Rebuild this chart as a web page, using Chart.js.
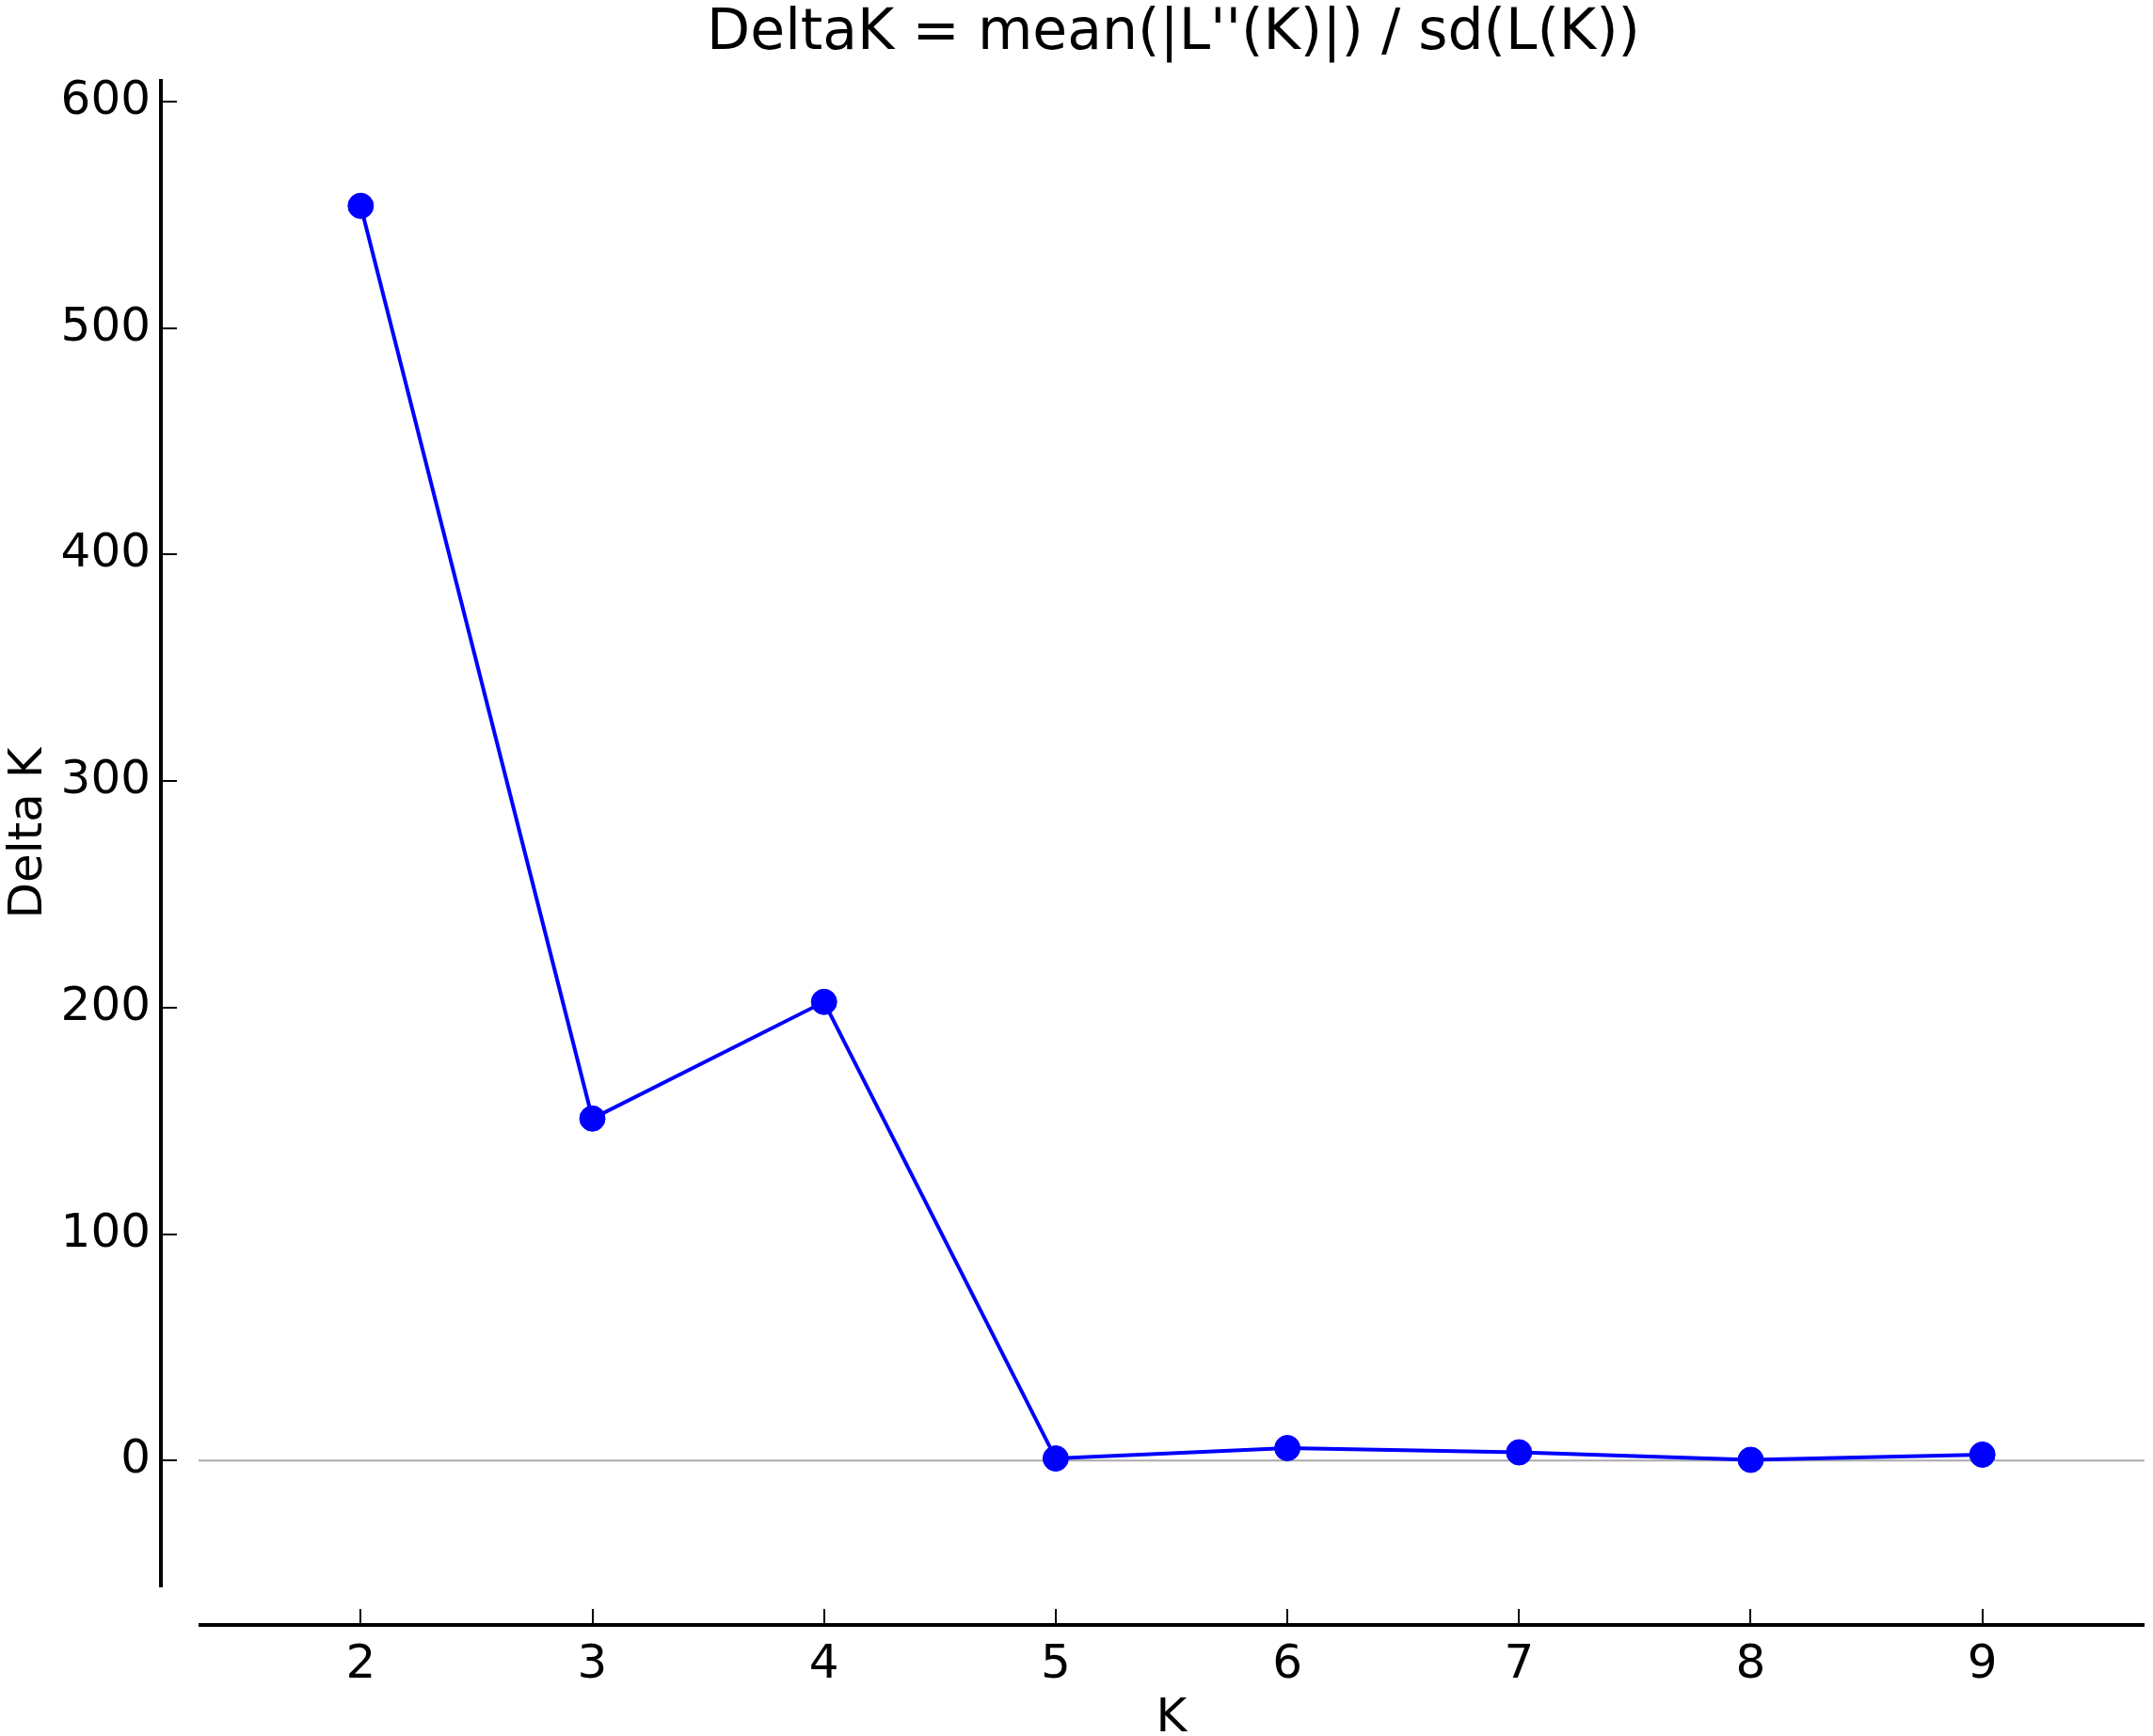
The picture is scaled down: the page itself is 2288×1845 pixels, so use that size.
<!DOCTYPE html>
<html>
<head>
<meta charset="utf-8">
<script src="https://cdn.jsdelivr.net/npm/chart.js@4/dist/chart.umd.min.js"></script>
<style>
  html, body { margin: 0; padding: 0; background: #fff; }
  #wrap { width: 2288px; height: 1845px; }
</style>
</head>
<body>
<div id="wrap"><canvas id="deltaChart" width="2288" height="1845"></canvas></div>
<script>
// values
const kValues = [2, 3, 4, 5, 6, 7, 8, 9];
const deltaK = [554, 151, 202.5, 0.9, 5.5, 3.6, 0.3, 2.6];
const xTickValues = [2, 3, 4, 5, 6, 7, 8, 9];
const yTickValues = [0, 100, 200, 300, 400, 500, 600];
const xRange = [1.3, 9.7];
const yRange = [-56, 610];
const chartTitle = "DeltaK = mean(|L''(K)|) / sd(L(K))";

const FONT = "DejaVu Sans";

// matplotlib-style offset spines with inward ticks, title centred on the axes
const spinePlugin = {
  id: "spines",
  afterDraw(chart) {
    const { ctx, chartArea, scales } = chart;
    const off = 40;
    const spineX = chartArea.left - off;
    const spineY = chartArea.bottom + off;
    ctx.save();
    ctx.strokeStyle = "#000";
    ctx.lineCap = "butt";
    ctx.lineWidth = 4;
    ctx.beginPath();
    ctx.moveTo(spineX, chartArea.top);
    ctx.lineTo(spineX, chartArea.bottom);
    ctx.moveTo(chartArea.left, spineY);
    ctx.lineTo(chartArea.right, spineY);
    ctx.stroke();
    ctx.lineWidth = 2;
    ctx.beginPath();
    scales.y.ticks.forEach((t) => {
      const py = Math.round(scales.y.getPixelForValue(t.value));
      ctx.moveTo(spineX, py);
      ctx.lineTo(spineX + 17, py);
    });
    scales.x.ticks.forEach((t) => {
      const px = Math.round(scales.x.getPixelForValue(t.value));
      ctx.moveTo(px, spineY);
      ctx.lineTo(px, spineY - 17);
    });
    ctx.stroke();

    ctx.fillStyle = "#000";
    ctx.font = "60px '" + FONT + "'";
    ctx.textAlign = "center";
    ctx.textBaseline = "middle";
    ctx.fillText(chartTitle, (chartArea.left + chartArea.right) / 2 + 2, 36);
    ctx.restore();
  },
};

const ctx = document.getElementById("deltaChart").getContext("2d");

const points = kValues.map((k, i) => ({ x: k, y: deltaK[i] }));
const zeroLine = [{ x: xRange[0], y: 0 }, { x: xRange[1], y: 0 }];

new Chart(ctx, {
  type: "scatter",
  data: {
    datasets: [
      {
        label: "Delta K",
        data: points,
        showLine: true,
        borderColor: "#0000ff",
        borderWidth: 4,
        pointRadius: 13.5,
        pointBorderWidth: 1,
        pointBackgroundColor: "#0000ff",
        pointBorderColor: "#0000ff",
        order: 1,
        clip: false,
      },
      {
        label: "zero",
        data: zeroLine,
        showLine: true,
        borderColor: "#aaaaaa",
        borderWidth: 2,
        pointRadius: 0,
        order: 2,
      },
    ],
  },
  options: {
    responsive: false,
    animation: false,
    layout: { autoPadding: false, padding: { left: 0, right: 9, top: 84, bottom: 0 } },
    plugins: {
      legend: { display: false },
      tooltip: { enabled: false },
      title: { display: false },
    },
    scales: {
      x: {
        type: "linear",
        min: xRange[0],
        max: xRange[1],
        afterBuildTicks: (scale) => {
          scale.ticks = xTickValues.map((v) => ({ value: v }));
        },
        afterFit: (scale) => {
          scale.height = 158;
          scale.paddingLeft = 0;
          scale.paddingRight = 0;
        },
        grid: { display: false },
        border: { display: false },
        ticks: {
          color: "#000",
          font: { family: FONT, size: 50 },
          padding: 45,
          maxRotation: 0,
        },
        title: {
          display: true,
          text: "K",
          color: "#000",
          font: { family: FONT, size: 50, lineHeight: 0.72 },
          padding: { top: 0, bottom: 0 },
        },
      },
      y: {
        type: "linear",
        min: yRange[0],
        max: yRange[1],
        afterBuildTicks: (scale) => {
          scale.ticks = yTickValues.map((v) => ({ value: v }));
        },
        afterFit: (scale) => {
          scale.width = 211;
          scale.paddingTop = 0;
          scale.paddingBottom = 0;
        },
        grid: { display: false },
        border: { display: false },
        ticks: {
          color: "#000",
          font: { family: FONT, size: 50 },
          padding: 43,
        },
        title: {
          display: true,
          text: "Delta K",
          color: "#000",
          font: { family: FONT, size: 50, lineHeight: 1.0 },
          padding: { top: 6, bottom: 0 },
        },
      },
    },
  },
  plugins: [spinePlugin],
});
</script>
</body>
</html>
